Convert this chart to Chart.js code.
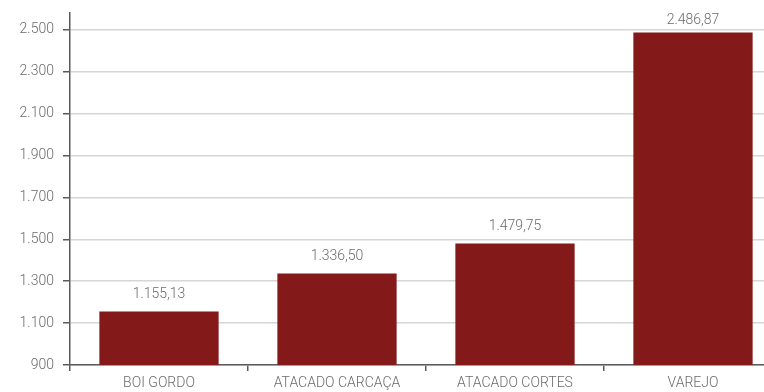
<!DOCTYPE html>
<html>
<head>
<meta charset="utf-8">
<script src="https://cdn.jsdelivr.net/npm/chart.js@4"></script>
<style>
    html, body { margin: 0; padding: 0; background: #fff; overflow: hidden; }
    #wrap { width: 764px; height: 392px; overflow: hidden; }
    #box { width: 790px; height: 392px; position: relative; }
</style>
</head>
<body>
<div id="wrap"><div id="box"><canvas id="chart"></canvas></div></div>
<script>
const categories = ['BOI GORDO', 'ATACADO CARCAÇA', 'ATACADO CORTES', 'VAREJO'];
const values = [1155.13, 1336.50, 1479.75, 2486.87];
const yTicks = [900, 1100, 1300, 1500, 1700, 1900, 2100, 2300, 2500];

const barColor = '#84191a';
const textColor = '#6b6b6b';
const axisColor = '#5a5a5a';
const fontFamily = 'Roboto, "Liberation Sans", sans-serif';

const fmtInt = v => v.toLocaleString('pt-BR', { maximumFractionDigits: 0 });
const fmtDec = v => v.toLocaleString('pt-BR', { minimumFractionDigits: 2, maximumFractionDigits: 2 });

// Value labels above each bar (kept inside the canvas for the tallest one)
const valueLabels = {
    id: 'valueLabels',
    afterDatasetsDraw(chart) {
        const ctx = chart.ctx;
        const meta = chart.getDatasetMeta(0);
        ctx.save();
        ctx.font = '300 14px ' + fontFamily;
        ctx.fillStyle = textColor;
        ctx.textAlign = 'center';
        ctx.textBaseline = 'middle';
        meta.data.forEach((bar, i) => {
            ctx.fillText(fmtDec(values[i]), bar.x, Math.max(bar.y - 17, 20));
        });
        ctx.restore();
    }
};

new Chart(document.getElementById('chart'), {
    type: 'bar',
    data: {
        labels: categories,
        datasets: [{
            data: values,
            backgroundColor: barColor,
            borderWidth: 0,
            categoryPercentage: 1,
            barPercentage: 0.67
        }]
    },
    options: {
        responsive: true,
        maintainAspectRatio: false,
        animation: false,
        layout: { padding: { top: 13, right: 8, bottom: 0, left: 0 } },
        plugins: { legend: { display: false }, tooltip: { enabled: false } },
        scales: {
            x: {
                afterFit: scale => { scale.height = 27; },
                grid: { drawOnChartArea: false, drawTicks: true, tickLength: 6, tickColor: axisColor, lineWidth: 1.5 },
                border: { color: axisColor, width: 1.5 },
                ticks: { color: textColor, font: { family: fontFamily, size: 14, weight: 300 }, padding: 4, maxRotation: 0 }
            },
            y: {
                min: 900,
                max: 2580,
                afterBuildTicks: scale => { scale.ticks = yTicks.map(v => ({ value: v })); },
                afterFit: scale => { scale.width = 70; scale.paddingTop = 0; scale.paddingBottom = 0; },
                grid: { color: '#d6d6d6', lineWidth: 1.5, tickLength: 7, tickColor: axisColor },
                border: { color: axisColor, width: 1.5 },
                ticks: { color: textColor, font: { family: fontFamily, size: 14, weight: 300 }, padding: 9, callback: v => fmtInt(v) }
            }
        }
    },
    plugins: [valueLabels]
});
</script>
</body>
</html>
